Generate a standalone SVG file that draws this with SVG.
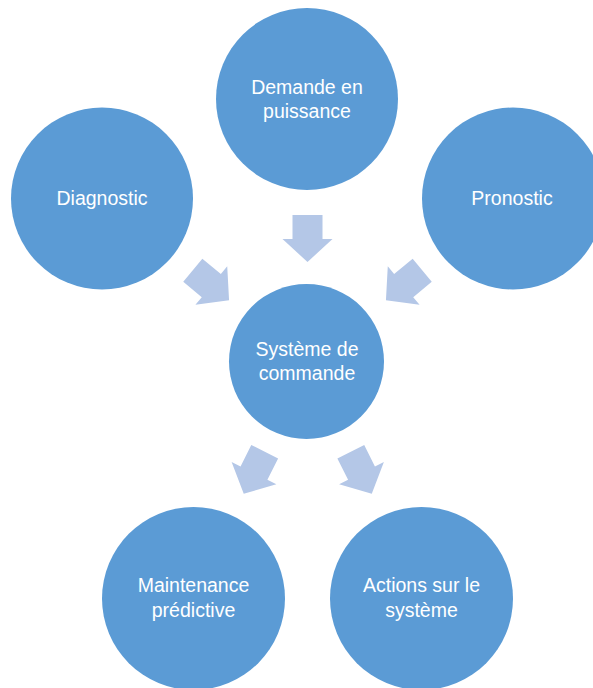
<svg xmlns="http://www.w3.org/2000/svg" width="593" height="688" viewBox="0 0 593 688">
<style>
.node circle{fill:#5B9BD5}
.node text{fill:#FFFFFF;font-family:"Liberation Sans",Arial,sans-serif;font-size:19.5px;text-anchor:middle}
.arrow{fill:#B4C7E7}
</style>
<defs>
<polygon id="arr" class="arrow" points="0,-15 24,-15 24,-25 47,0 24,25 24,15 0,15"/>
</defs>
<rect width="593" height="688" fill="#FFFFFF"/>
<g id="connectors">
<use href="#arr" transform="translate(307.5,215) rotate(90)"/>
<use href="#arr" transform="translate(192.8,270.3) rotate(39.5)"/>
<use href="#arr" transform="translate(422.2,270.3) rotate(140.5)"/>
<use href="#arr" transform="translate(264.7,451.7) rotate(116.5)"/>
<use href="#arr" transform="translate(350.8,451.7) rotate(63.5)"/>
</g>
<g id="demande" class="node">
<circle cx="307" cy="99" r="91"/>
<text x="307" y="94">Demande en</text>
<text x="307" y="118">puissance</text>
</g>
<g id="diagnostic" class="node">
<circle cx="102" cy="198.5" r="91"/>
<text x="102" y="205">Diagnostic</text>
</g>
<g id="pronostic" class="node">
<circle cx="513" cy="198.5" r="91"/>
<text x="512" y="205">Pronostic</text>
</g>
<g id="systeme" class="node">
<circle cx="306.5" cy="361.5" r="77.5"/>
<text x="307" y="356">Système de</text>
<text x="307" y="380">commande</text>
</g>
<g id="maintenance" class="node">
<circle cx="193.5" cy="598.5" r="91.5"/>
<text x="193.5" y="592">Maintenance</text>
<text x="193.5" y="617">prédictive</text>
</g>
<g id="actions" class="node">
<circle cx="421.5" cy="598.5" r="91.5"/>
<text x="421.5" y="592">Actions sur le</text>
<text x="421.5" y="617">système</text>
</g>
</svg>
